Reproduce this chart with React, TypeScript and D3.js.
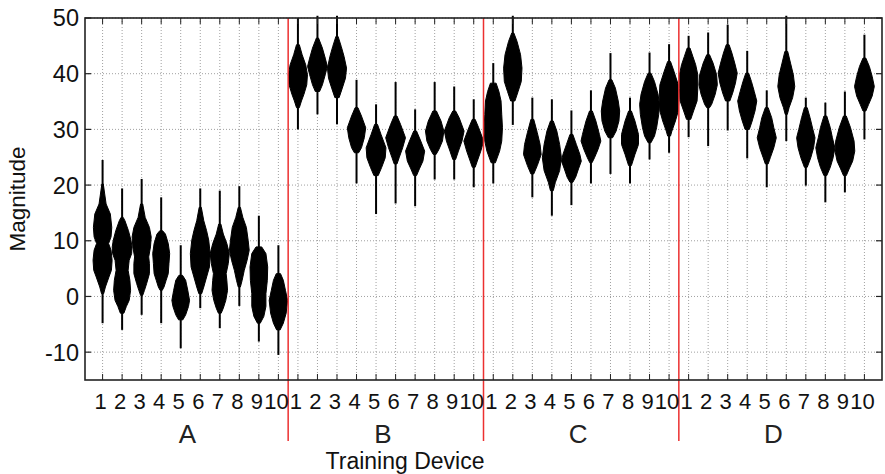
import React from 'react';
import * as d3 from 'd3';

const groups = ['A', 'B', 'C', 'D'];
const devices = ['1', '2', '3', '4', '5', '6', '7', '8', '9', '10'];
const yTicks = [-10, 0, 10, 20, 30, 40, 50];

// whisker extents (min, max) per device, per group
const loA = [-4.8, -6.0, -3.3, -4.8, -9.3, -2.1, -5.7, -1.7, -8.1, -10.5];
const hiA = [24.5, 19.4, 21.1, 17.8, 9.2, 19.4, 19.0, 19.8, 14.5, 9.2];
const loB = [30.0, 32.7, 30.9, 20.3, 14.8, 16.7, 16.2, 21.0, 21.0, 19.6];
const hiB = [50.0, 50.4, 50.4, 38.9, 34.5, 38.5, 33.6, 38.5, 37.7, 35.4];
const loC = [20.3, 30.8, 17.8, 14.5, 16.4, 20.3, 22.0, 20.3, 24.6, 25.8];
const hiC = [41.9, 50.4, 35.7, 35.4, 33.4, 37.0, 43.7, 35.7, 43.8, 45.3];
const loD = [28.6, 27.0, 29.8, 24.8, 19.6, 27.9, 19.9, 16.9, 18.7, 28.2];
const hiD = [46.8, 47.4, 48.8, 44.1, 37.0, 50.4, 35.7, 34.8, 36.8, 47.0];

// density profiles: [magnitude, relative density]
type Prof = Array<[number, number]>;
const bodyA: Prof[] = [
  [[20.2, 2], [18.4, 6], [16.6, 10], [14.8, 22], [12.4, 26], [10.7, 24], [9.5, 17], [8.3, 24], [6.5, 27], [4.7, 25], [3.5, 18], [1.7, 8], [0.5, 3]],
  [[14.2, 3], [13.6, 8], [11.8, 18], [10.1, 25], [8.9, 28], [7.7, 27], [6.5, 20], [4.7, 17], [2.9, 22], [1.1, 24], [-0.7, 20], [-1.8, 12], [-3.0, 5]],
  [[16.6, 3], [14.2, 10], [12.4, 22], [10.7, 27], [8.9, 25], [7.1, 20], [5.9, 22], [4.1, 22], [2.3, 14], [1.1, 8], [0.2, 3]],
  [[11.8, 4], [11.2, 12], [9.5, 20], [7.7, 24], [5.9, 22], [4.1, 20], [2.9, 14], [1.7, 8], [1.1, 3]],
  [[3.8, 5], [2.9, 14], [1.1, 20], [-0.7, 25], [-1.8, 22], [-3.3, 14], [-4.2, 6]],
  [[16.0, 3], [13.6, 10], [11.8, 18], [10.1, 24], [7.7, 28], [5.3, 26], [3.5, 18], [1.7, 10], [0.5, 4]],
  [[13.0, 3], [11.2, 10], [9.5, 20], [7.7, 27], [5.9, 24], [4.1, 18], [2.9, 20], [1.1, 22], [-0.7, 17], [-2.1, 10], [-3.0, 4]],
  [[16.0, 3], [14.2, 10], [12.4, 20], [10.1, 25], [8.3, 28], [6.5, 22], [4.7, 14], [2.9, 8], [1.7, 3]],
  [[8.9, 8], [7.7, 20], [5.3, 25], [2.9, 24], [0.5, 20], [-1.8, 20], [-3.6, 14], [-4.8, 4]],
  [[4.1, 6], [2.9, 14], [1.1, 20], [-0.7, 26], [-3.0, 22], [-4.8, 14], [-6.0, 5]],
];
const bodyB: Prof[] = [
  [[45.2, 4], [43.4, 12], [41.6, 22], [39.8, 27], [38.0, 25], [36.3, 17], [35.1, 10], [33.9, 4]],
  [[46.4, 3], [44.6, 14], [42.8, 22], [41.3, 28], [39.8, 22], [38.0, 14], [36.8, 6]],
  [[46.7, 3], [44.9, 12], [43.1, 20], [41.0, 27], [39.2, 24], [37.4, 15], [35.7, 6]],
  [[33.9, 4], [32.4, 14], [30.3, 26], [28.5, 22], [26.7, 14], [25.8, 6]],
  [[30.9, 4], [29.1, 14], [26.7, 28], [24.9, 26], [23.2, 16], [21.7, 6]],
  [[32.4, 4], [30.9, 14], [28.5, 28], [26.7, 20], [24.9, 10], [23.8, 4]],
  [[29.7, 4], [27.9, 16], [26.1, 27], [24.3, 22], [22.9, 12], [21.7, 4]],
  [[33.3, 5], [31.5, 18], [29.7, 26], [27.9, 22], [26.4, 12], [25.5, 4]],
  [[33.3, 4], [32.1, 14], [29.7, 28], [27.9, 22], [26.1, 12], [24.6, 4]],
  [[31.8, 4], [30.3, 14], [27.9, 28], [26.1, 20], [24.3, 10], [23.2, 4]],
];
const bodyC: Prof[] = [
  [[38.3, 8], [36.8, 16], [35.1, 22], [32.7, 24], [30.3, 26], [27.9, 24], [26.1, 18], [24.0, 6]],
  [[47.3, 3], [45.8, 12], [43.4, 22], [41.0, 26], [38.6, 24], [36.8, 15], [35.1, 6]],
  [[31.8, 4], [29.4, 14], [27.3, 22], [25.5, 25], [23.5, 14], [22.0, 4]],
  [[31.5, 4], [29.7, 14], [27.3, 22], [24.9, 27], [22.6, 22], [20.5, 10], [19.0, 4]],
  [[29.1, 4], [27.3, 14], [25.5, 24], [24.3, 28], [22.9, 20], [21.4, 12], [20.5, 4]],
  [[33.3, 4], [31.5, 14], [29.1, 24], [27.9, 28], [26.4, 20], [24.9, 10], [24.0, 3]],
  [[38.9, 4], [37.4, 14], [35.1, 22], [33.3, 26], [31.5, 24], [29.7, 16], [28.5, 6]],
  [[33.3, 4], [31.5, 14], [29.1, 24], [27.3, 24], [25.5, 14], [23.5, 4]],
  [[40.1, 4], [38.6, 14], [36.3, 24], [34.5, 28], [32.7, 26], [30.3, 20], [28.8, 14], [27.6, 4]],
  [[42.2, 4], [40.4, 14], [38.0, 26], [35.7, 28], [33.3, 26], [31.5, 18], [29.7, 8], [28.8, 4]],
];
const bodyD: Prof[] = [
  [[44.6, 4], [43.1, 12], [41.6, 20], [39.8, 26], [37.4, 26], [35.1, 24], [33.3, 14], [31.8, 6]],
  [[43.4, 4], [41.9, 14], [39.8, 24], [38.0, 26], [36.3, 20], [34.5, 10], [33.9, 4]],
  [[45.2, 4], [43.7, 12], [41.9, 20], [40.1, 27], [38.3, 22], [36.5, 14], [35.1, 6]],
  [[40.1, 4], [38.6, 12], [36.8, 20], [35.1, 27], [33.3, 22], [31.5, 14], [30.0, 6]],
  [[33.9, 4], [32.1, 14], [30.3, 20], [28.5, 27], [26.7, 20], [24.9, 10], [23.8, 4]],
  [[44.0, 4], [41.9, 12], [39.8, 20], [37.7, 24], [35.7, 18], [33.9, 8], [32.7, 3]],
  [[33.9, 4], [32.1, 12], [30.0, 20], [28.5, 26], [26.7, 22], [24.9, 14], [23.2, 4]],
  [[32.4, 4], [30.3, 14], [28.5, 20], [26.7, 27], [24.9, 22], [23.2, 14], [21.7, 4]],
  [[32.4, 4], [30.3, 16], [27.9, 26], [26.1, 28], [24.3, 22], [22.9, 12], [21.7, 4]],
  [[42.8, 4], [41.3, 14], [39.5, 22], [37.7, 28], [36.0, 22], [34.5, 12], [33.3, 4]],
];

const los = [loA, loB, loC, loD];
const his = [hiA, hiB, hiC, hiD];
const bodies = [bodyA, bodyB, bodyC, bodyD];

const W = 885;
const H = 474;
const L = 85, R = 882, T = 18, B = 380;
const FONT = '"Liberation Sans", Arial, sans-serif';

export default function App() {
  const n = groups.length * devices.length;
  const x = d3.scaleLinear().domain([0.1, n + 0.9]).range([L, R]);
  const y = d3.scaleLinear().domain([-15, 50]).range([B, T]);
  const w = d3.scaleLinear().domain([0, 30]).range([0, 10.6]);
  const positions = d3.range(1, n + 1);

  const items: { pos: number; gi: number; di: number }[] = [];
  groups.forEach((g, gi) => devices.forEach((d, di) => items.push({ pos: gi * devices.length + di + 1, gi, di })));

  const grid = '#a0a0a0';
  return (
    <svg width={W} height={H} style={{ position: 'absolute', left: 0, top: 0, background: '#fff' }} fontFamily={FONT}>
      <rect x={0} y={0} width={W} height={H} fill="#fff" />
      {/* grid */}
      {positions.map((p) => (
        <line key={'gx' + p} x1={x(p)} x2={x(p)} y1={T} y2={B} stroke={grid} strokeWidth={1} strokeDasharray="1 2" />
      ))}
      {yTicks.map((t) => (
        <line key={'gy' + t} x1={L} x2={R} y1={y(t)} y2={y(t)} stroke={grid} strokeWidth={1} strokeDasharray="1 2" />
      ))}
      {/* violins */}
      {items.map(({ pos, gi, di }) => {
        const cx = x(pos);
        const prof = bodies[gi][di];
        const area = d3
          .area<[number, number]>()
          .x0((d) => cx - w(d[1]))
          .x1((d) => cx + w(d[1]))
          .y((d) => y(d[0]))
          .curve(d3.curveLinear);
        return (
          <g key={'v' + pos}>
            <line x1={cx} x2={cx} y1={y(his[gi][di])} y2={y(los[gi][di])} stroke="#000" strokeWidth={2} />
            <path d={area(prof) || ''} fill="#000" stroke="#000" strokeWidth={1} />
          </g>
        );
      })}
      {/* group separators */}
      {[1, 2, 3].map((k) => {
        const xx = x(k * devices.length + 0.5);
        return <line key={'sep' + k} x1={xx} x2={xx} y1={T} y2={441} stroke="#ec3030" strokeWidth={1.5} />;
      })}
      {/* frame */}
      <rect x={L} y={T} width={R - L} height={B - T} fill="none" stroke="#222" strokeWidth={1.6} />
      {/* ticks */}
      {positions.map((p) => (
        <g key={'tk' + p}>
          <line x1={x(p)} x2={x(p)} y1={B} y2={B - 6} stroke="#222" strokeWidth={1} />
          <line x1={x(p)} x2={x(p)} y1={T} y2={T + 6} stroke="#222" strokeWidth={1} />
        </g>
      ))}
      {yTicks.map((t) => (
        <g key={'ty' + t}>
          <line x1={L} x2={L + 6} y1={y(t)} y2={y(t)} stroke="#222" strokeWidth={1.2} />
          <line x1={R} x2={R - 6} y1={y(t)} y2={y(t)} stroke="#222" strokeWidth={1.2} />
          <text x={79} y={y(t)} dy="0.36em" textAnchor="end" fontSize={23.5} fill="#111">
            {t}
          </text>
        </g>
      ))}
      {items.map(({ pos, di }) => (
        <text key={'xl' + pos} x={x(pos) - 2} y={409} textAnchor="middle" fontSize={22} fill="#111">
          {devices[di]}
        </text>
      ))}
      {groups.map((g, gi) => (
        <text key={'g' + g} x={(x(gi * 10 + 1) + x(gi * 10 + 10)) / 2 - 3} y={443} textAnchor="middle" fontSize={26} fill="#222">
          {g}
        </text>
      ))}
      <text x={405} y={469} textAnchor="middle" fontSize={23} fill="#111">
        Training Device
      </text>
      <text transform={`translate(25, ${(T + B) / 2}) rotate(-90)`} textAnchor="middle" fontSize={22.5} fill="#111">
        Magnitude
      </text>
    </svg>
  );
}
